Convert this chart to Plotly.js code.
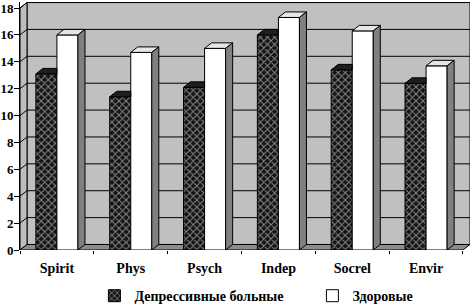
<!DOCTYPE html>
<html>
<head>
<meta charset="utf-8">
<script src="https://cdn.plot.ly/plotly-3.0.1.min.js"></script>
<style>html,body{margin:0;padding:0;background:#fff;}#chart{width:472px;height:304px;}</style>
</head>
<body>
<div id="chart"></div>
<script>
const categories = ['Spirit', 'Phys', 'Psych', 'Indep', 'Socrel', 'Envir'];
const depressed = [13.1, 11.4, 12.1, 16.0, 13.4, 12.4];
const healthy = [16.0, 14.7, 15.0, 17.3, 16.3, 13.7];
const seriesNames = ['Депрессивные больные', 'Здоровые'];
const yTicks = [0, 2, 4, 6, 8, 10, 12, 14, 16, 18];

// 3D geometry (in axis units)
const W = 0.285;     // bar width
const DX = 0.095;    // depth offset x
const DY = 0.41;     // depth offset y
const X0 = -0.5, X1 = categories.length - 0.5;
const YMAX = 18;

const idx = categories.map((c, i) => i);
const boundaries = categories.map((c, i) => i - 0.5).concat([X1]);

const font = {family: 'Liberation Serif, Times New Roman, serif', color: '#000', weight: 'bold'};

// faces
const darkTopX = [], darkTopY = [];
const whiteTopX = [], whiteTopY = [];
const whiteSideX = [], whiteSideY = [];
idx.forEach(i => {
  const vd = depressed[i], vh = healthy[i];
  darkTopX.push(i - W, i, i, i - W + DX, i - W, null);
  darkTopY.push(vd, vd, vd + DY, vd + DY, vd, null);
  whiteTopX.push(i, i + W, i + W + DX, i + DX, i, null);
  whiteTopY.push(vh, vh, vh + DY, vh + DY, vh, null);
  whiteSideX.push(i + W, i + W + DX, i + W + DX, i + W, i + W, null);
  whiteSideY.push(0, DY, vh + DY, vh, 0, null);
});

const traces = [
  {type: 'bar', x: idx, y: depressed, name: seriesNames[0], offset: -W, width: W,
   marker: {color: '#151515', line: {color: '#000', width: 1},
            pattern: {shape: 'x', fillmode: 'replace', bgcolor: '#141414', fgcolor: '#8a8a8a', size: 5, solidity: 0.35}},
   hoverinfo: 'skip'},
  {type: 'bar', x: idx, y: healthy, name: seriesNames[1], offset: 0, width: W,
   marker: {color: '#ffffff', line: {color: '#000', width: 1}}, hoverinfo: 'skip'},
  {type: 'scatter', mode: 'lines', x: darkTopX, y: darkTopY, fill: 'toself', fillcolor: '#1e1e1e',
   line: {color: '#000', width: 1}, showlegend: false, hoverinfo: 'skip'},
  {type: 'scatter', mode: 'lines', x: whiteTopX, y: whiteTopY, fill: 'toself', fillcolor: '#e6e6e6',
   line: {color: '#000', width: 1}, showlegend: false, hoverinfo: 'skip'},
  {type: 'scatter', mode: 'lines', x: whiteSideX, y: whiteSideY, fill: 'toself', fillcolor: '#808080',
   line: {color: '#000', width: 1}, showlegend: false, hoverinfo: 'skip'},
  {type: 'scatter', mode: 'lines', x: [], y: [], xaxis: 'x2', showlegend: false, hoverinfo: 'skip'}
];

const shapes = [];
// back wall
shapes.push({type: 'rect', xref: 'x', yref: 'y', layer: 'below',
  x0: X0 + DX, x1: X1 + DX, y0: DY, y1: YMAX + DY,
  fillcolor: '#c0c0c0', line: {color: '#000', width: 1}});
// left wall
shapes.push({type: 'path', xref: 'x', yref: 'y', layer: 'below',
  path: `M${X0},0 L${X0 + DX},${DY} L${X0 + DX},${YMAX + DY} L${X0},${YMAX} Z`,
  fillcolor: '#bdbdbd', line: {color: '#000', width: 1}});
// floor
shapes.push({type: 'path', xref: 'x', yref: 'y', layer: 'below',
  path: `M${X0},0 L${X1},0 L${X1 + DX},${DY} L${X0 + DX},${DY} Z`,
  fillcolor: '#8c8c8c', line: {color: '#000', width: 1}});
// gridlines on walls
yTicks.filter(v => v > 0).forEach(v => {
  shapes.push({type: 'line', xref: 'x', yref: 'y', layer: 'below',
    x0: X0 + DX, x1: X1 + DX, y0: v + DY, y1: v + DY, line: {color: '#000', width: 1}});
  shapes.push({type: 'line', xref: 'x', yref: 'y', layer: 'below',
    x0: X0, x1: X0 + DX, y0: v, y1: v + DY, line: {color: '#000', width: 1}});
});

const layout = {
  width: 472, height: 304,
  margin: {l: 20, r: 2, t: 2, b: 54},
  paper_bgcolor: '#fff', plot_bgcolor: '#fff',
  showlegend: true,
  barmode: 'overlay',
  xaxis: {range: [X0, X1 + DX], tickvals: idx, ticktext: categories, ticks: '',
          showgrid: false, zeroline: false, showline: false, fixedrange: true,
          ticklabelstandoff: 8, tickfont: Object.assign({size: 14}, font)},
  xaxis2: {range: [X0, X1 + DX], overlaying: 'x', anchor: 'y', side: 'bottom',
           tickvals: boundaries, ticks: 'outside', ticklen: 3, tickcolor: '#000',
           showticklabels: false, showgrid: false, zeroline: false, showline: false},
  yaxis: {range: [0, 18.45], tickvals: yTicks, ticks: 'outside', ticklen: 5, tickcolor: '#000',
          showgrid: false, zeroline: false, showline: true, linecolor: '#000', linewidth: 1,
          ticklabelstandoff: -2,
          tickfont: Object.assign({size: 13}, font), fixedrange: true},
  legend: {orientation: 'h', xref: 'container', yref: 'container', x: 0.2, y: 0.026,
           xanchor: 'left', yanchor: 'middle', font: Object.assign({size: 14}, font),
           entrywidth: 173, entrywidthmode: 'pixels',
           bgcolor: 'rgba(0,0,0,0)', traceorder: 'normal'},
  shapes: shapes
};

Plotly.newPlot('chart', traces, layout, {staticPlot: true, displayModeBar: false});
</script>
</body>
</html>
